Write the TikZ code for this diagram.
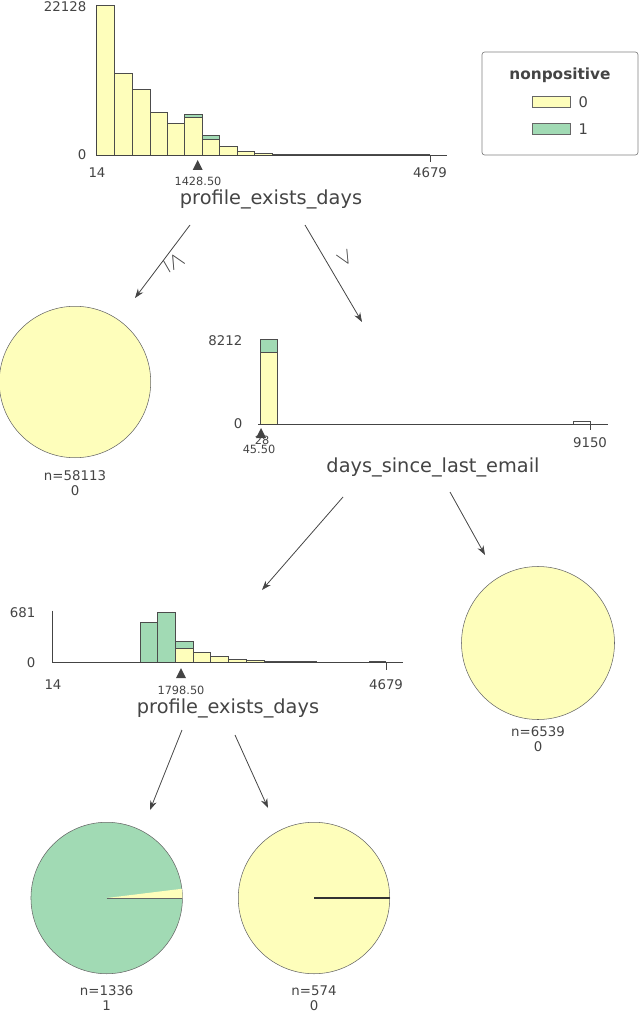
\documentclass[tikz,border=0pt]{standalone}
\usepackage{fontspec}
\setmainfont{DejaVu Sans}
\usetikzlibrary{arrows.meta}
\begin{document}
\definecolor{cy}{HTML}{FEFEBB}
\definecolor{cg}{HTML}{A1DAB4}
\definecolor{tx}{HTML}{444444}
\begin{tikzpicture}[x=0.75pt,y=-0.75pt,
  bar/.style={draw=black!70,line width=0.5pt},
  ax/.style={draw=tx,line width=0.6pt},
  tick/.style={text=tx,font=\fontsize{10}{10}\selectfont},
  split/.style={text=tx,font=\fontsize{8.5}{9}\selectfont},
  feat/.style={text=tx,font=\fontsize{14.5}{15}\selectfont},
  leaf/.style={text=tx,font=\fontsize{10}{11}\selectfont,align=center},
  arr/.style={draw=tx,line width=0.6pt,-{Stealth[length=7pt,width=5pt]}},
  tri/.style={fill=tx,draw=none},
  pie/.style={circle,draw=black!60,line width=0.4pt,inner sep=0pt,minimum size=113.6pt}]
\useasboundingbox (0,0) rectangle (640,1012);
% ---------- top histogram
\foreach \a/\b/\t in {96.7/114.3/5,114.3/132.3/73,132.3/150/89,150/167.3/112,167.3/184.7/123,202.3/219.7/139,219.7/237/146,237/254.3/151,254.3/272.7/153,272.7/290.7/154,290.7/308/154.5}
  \fill[cy,bar] (\a,155) rectangle (\b,\t);
\fill[cy,bar] (184.7,155) rectangle (202.3,117);
\fill[cg,bar] (184.7,117) rectangle (202.3,114);
\fill[cg,bar] (202.3,139) rectangle (219.7,135);
\draw[bar] (308,154.6) -- (430,154.6);
\draw[ax] (96,5) -- (96,155) -- (447,155);
\draw[ax] (430,155) -- (430,162);
\fill[tri] (197.7,160) -- (192.7,170) -- (202.7,170) -- cycle;
\node[tick,anchor=east] at (91,7) {22128};
\node[tick,anchor=east] at (91,155) {0};
\node[tick] at (97,173) {14};
\node[tick] at (430,173) {4679};
\node[split] at (198,181) {1428.50};
\node[feat] (f1) at (271,199) {profile\_exists\_days};
% legend
\draw[draw=black!50,rounded corners=2pt,line width=0.5pt] (482,52) rectangle (638,155);
\node[text=tx,font=\bfseries\fontsize{11.5}{12}\selectfont] at (560,75) {nonpositive};
\draw[fill=cy,draw=black!60] (532,96) rectangle (570,107);
\draw[fill=cg,draw=black!60] (532,123) rectangle (570,134);
\node[text=tx,font=\fontsize{11}{12}\selectfont,anchor=west] at (574,102) {0};
\node[text=tx,font=\fontsize{11}{12}\selectfont,anchor=west] at (574,129) {1};
% arrows from top
\coordinate (a1s) at (190,225); \coordinate (a1e) at (135,298);
\coordinate (a2s) at (305,225); \coordinate (a2e) at (362,322);
\draw[arr] (a1s) -- (a1e);
\draw[arr] (a2s) -- (a2e);
\node[text=tx,font=\fontsize{16}{16}\selectfont,rotate=-60] at (174,262) {$\leq$};
\node[text=tx,font=\fontsize{16}{16}\selectfont,rotate=-60] at (345,258) {$>$};
% left leaf
\node[pie,fill=cy] (p1) at (75,382) {};
\node[leaf] at (75,483) {n=58113\\0};
% ---------- middle histogram
\fill[cy,bar] (260,424) rectangle (277.7,352.3);
\fill[cg,bar] (260,352.3) rectangle (277.7,339);
\draw[bar] (573,424) -- (573,421) -- (590.7,421) -- (590.7,424);
\draw[ax] (258,424) -- (607.7,424);
\draw[ax] (590.7,424) -- (590.7,430);
\fill[tri] (261,428) -- (256,438) -- (266,438) -- cycle;
\node[tick,anchor=east] at (247,341) {8212};
\node[tick,anchor=east] at (247,424) {0};
\node[split] at (262,440) {28};
\node[split] at (259,449) {45.50};
\node[tick] at (590,443) {9150};
\node[feat] (f2) at (433,467) {days\_since\_last\_email};
\coordinate (a3s) at (343,497); \coordinate (a3e) at (262,590);
\coordinate (a4s) at (450,492); \coordinate (a4e) at (485,555);
\draw[arr] (a3s) -- (a3e);
\draw[arr] (a4s) -- (a4e);
% right leaf
\node[pie,fill=cy,minimum size=114.75pt] (p2) at (538,643) {};
\node[leaf] at (538,739) {n=6539\\0};
% ---------- bottom histogram
\fill[cg,bar] (140,662.7) rectangle (157.7,622.7);
\fill[cg,bar] (157.7,662.7) rectangle (175.7,612.7);
\fill[cy,bar] (175.7,662.7) rectangle (193.3,648.3);
\fill[cg,bar] (175.7,648.3) rectangle (193.3,641);
\foreach \a/\b/\t in {193.3/210.7/652.3,210.7/228.3/656.7,228.3/246.7/659.3,246.7/264/660}
  \fill[cy,bar] (\a,662.7) rectangle (\b,\t);
\draw[bar] (264,661.7) -- (316.7,661.7);
\draw[bar] (369,661.7) -- (386,661.7);
\draw[ax] (52.3,610.7) -- (52.3,662.7) -- (403,662.7);
\draw[ax] (386,662.7) -- (386,670);
\fill[tri] (181,668) -- (176,678) -- (186,678) -- cycle;
\node[tick,anchor=east] at (40,613) {681};
\node[tick,anchor=east] at (40,663) {0};
\node[tick] at (53,685) {14};
\node[tick] at (386,685) {4679};
\node[split] at (181,690) {1798.50};
\node[feat] (f3) at (228,708) {profile\_exists\_days};
\coordinate (a5s) at (182,730); \coordinate (a5e) at (150,810);
\coordinate (a6s) at (235,735); \coordinate (a6e) at (268,808);
\draw[arr] (a5s) -- (a5e);
\draw[arr] (a6s) -- (a6e);
% bottom leaves
\node[pie,fill=cg] (p3) at (106.7,898) {};
\fill[cy] (106.7,898) -- (182.4,898) arc[start angle=0,end angle=-7,radius=75.7] -- cycle;
\draw[black!60,line width=0.4pt] (106.7,898) -- (182.4,898);
\node[leaf] at (106.7,998) {n=1336\\1};
\node[pie,fill=cy] (p4) at (314,898) {};
\draw[black!80,line width=1pt] (314,898) -- (389.7,898);
\node[leaf] at (314,998) {n=574\\0};
\end{tikzpicture}
\end{document}
